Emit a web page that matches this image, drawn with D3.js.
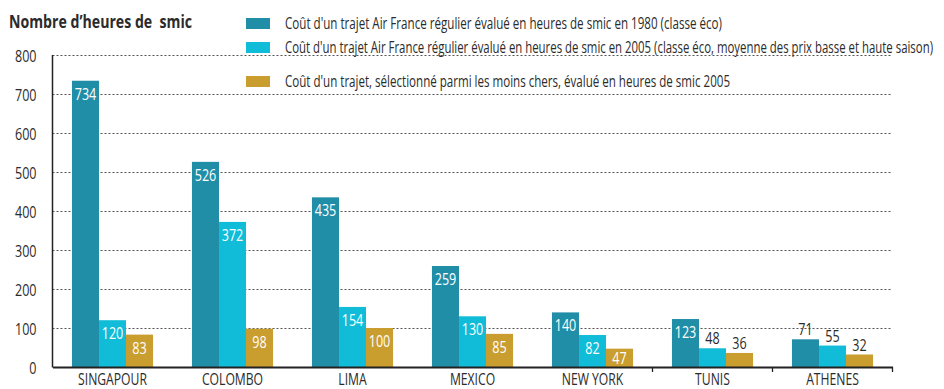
<!DOCTYPE html>
<html>
<head>
<meta charset="utf-8">
<script src="https://cdn.jsdelivr.net/npm/d3@7"></script>
<style>
  html, body { margin: 0; padding: 0; background: #fff; }
  svg { display: block; }
  text { font-family: "Open Sans", "Noto Sans", sans-serif; fill: #2b2b2b; }
</style>
</head>
<body>
<svg id="chart" width="944" height="389"></svg>
<script>
// Destinations
const categories = ["SINGAPOUR", "COLOMBO", "LIMA", "MEXICO", "NEW YORK", "TUNIS", "ATHENES"];

// Hours of minimum wage needed for one trip
const airFrance1980 = [734, 526, 435, 259, 140, 123, 71];
const airFrance2005 = [120, 372, 154, 130, 82, 48, 55];
const cheapest2005 = [83, 98, 100, 85, 47, 36, 32];

const seriesKeys = ["af1980", "af2005", "cheap"];
const seriesNames = [
  "Coût d'un trajet Air France régulier évalué en heures de smic en 1980 (classe éco)",
  "Coût d'un trajet Air France régulier évalué en heures de smic en 2005 (classe éco, moyenne des prix basse et haute saison)",
  "Coût d'un trajet, sélectionné parmi les moins chers, évalué en heures de smic 2005"
];
const seriesColors = ["#218ea8", "#10bcd8", "#ca9d2f"];

const yTicks = [0, 100, 200, 300, 400, 500, 600, 700, 800];
const yTitle = "Nombre d’heures de  smic";

// Values whose label sits above the bar instead of inside it
const labelsAbove = ["TUNIS/af2005", "TUNIS/cheap", "ATHENES/af1980", "ATHENES/af2005", "ATHENES/cheap"];
// Group boundaries that carry a small tick under the baseline
const tickedGroups = ["NEW YORK", "TUNIS", "ATHENES"];

const seriesValues = { af1980: airFrance1980, af2005: airFrance2005, cheap: cheapest2005 };
const rows = categories.map((c, i) => ({
  cat: c,
  bars: seriesKeys.map(k => ({ cat: c, key: k, value: seriesValues[k][i] }))
}));

const svg = d3.select("#chart");
const plotLeft = 52.5, plotRight = 892.5, plotTop = 55, plotBottom = 367;
const narrow = 0.74;   // horizontal squeeze for a condensed look
const isAbove = d => labelsAbove.includes(d.cat + "/" + d.key);

const x = d3.scaleBand().domain(categories).range([plotLeft, plotRight]).padding(0);
const xInner = d3.scaleBand().domain(seriesKeys).range([0, x.bandwidth()])
  .paddingInner(0).paddingOuter(0.72).align(0.5);
const y = d3.scaleLinear().domain([0, 800]).range([plotBottom, plotTop]);
const color = d3.scaleOrdinal().domain(seriesKeys).range(seriesColors);

// Dotted gridlines
const grid = svg.append("g")
  .attr("transform", `translate(${plotLeft},0)`)
  .call(d3.axisLeft(y).tickValues(yTicks.filter(v => v > 0)).tickSize(-(plotRight - plotLeft)).tickFormat(""));
grid.select(".domain").remove();
grid.selectAll(".tick line")
  .attr("stroke", "#555").attr("stroke-width", 1.1).attr("stroke-dasharray", "2,2");

// Y tick labels
const yAxis = svg.append("g")
  .attr("transform", `translate(${plotLeft},0)`)
  .call(d3.axisLeft(y).tickValues(yTicks).tickSize(0));
yAxis.select(".domain").remove();
yAxis.selectAll("text")
  .attr("font-size", 17).attr("fill", "#2b2b2b")
  .attr("font-family", "Open Sans, Noto Sans, sans-serif")
  .attr("x", 0).attr("dy", "0.36em")
  .attr("transform", `translate(-16,0) scale(${narrow},1)`);

// Bars
const groups = svg.append("g").selectAll("g").data(rows).join("g")
  .attr("transform", d => `translate(${x(d.cat)},0)`);

groups.selectAll("rect").data(d => d.bars).join("rect")
  .attr("x", d => xInner(d.key))
  .attr("width", xInner.bandwidth())
  .attr("y", d => y(d.value))
  .attr("height", d => y(0) - y(d.value))
  .attr("fill", d => color(d.key));

// Value labels: inside the top of the bar, or just above it
groups.selectAll("text.val").data(d => d.bars).join("text")
  .attr("class", "val")
  .attr("text-anchor", "middle")
  .attr("font-size", 17)
  .attr("transform", d => {
    const tx = xInner(d.key) + xInner.bandwidth() / 2;
    const ty = isAbove(d) ? y(d.value) - 4 : Math.min(y(d.value) + 19, plotBottom - 3);
    return `translate(${tx},${ty}) scale(${narrow},1)`;
  })
  .style("fill", d => isAbove(d) ? "#2b2b2b" : "#ffffff")
  .text(d => d.value);

// Axis lines
svg.append("line").attr("x1", plotLeft).attr("x2", plotLeft).attr("y1", plotTop).attr("y2", plotBottom + 0.5)
  .attr("stroke", "#222").attr("stroke-width", 1.5);

const xAxis = svg.append("g")
  .attr("transform", `translate(0,${plotBottom})`)
  .call(d3.axisBottom(x).tickSize(0).tickSizeOuter(0));
xAxis.select(".domain").attr("stroke", "#222").attr("stroke-width", 1.8);
xAxis.selectAll("text")
  .attr("font-size", 16).attr("fill", "#2b2b2b")
  .attr("font-family", "Open Sans, Noto Sans, sans-serif")
  .attr("y", 0).attr("dy", 0)
  .attr("transform", `translate(0,17.5) scale(${narrow + 0.02},1)`);

svg.append("g").selectAll("line").data(tickedGroups).join("line")
  .attr("x1", d => x(d) + x.bandwidth()).attr("x2", d => x(d) + x.bandwidth())
  .attr("y1", plotBottom).attr("y2", plotBottom + 5)
  .attr("stroke", "#222").attr("stroke-width", 1.3);

// Y axis title
svg.append("text")
  .attr("x", 9).attr("y", 28)
  .attr("font-size", 18.5).attr("font-weight", "bold")
  .style("white-space", "pre")
  .attr("textLength", 183).attr("lengthAdjust", "spacingAndGlyphs")
  .text(yTitle);

// Legend
const legendY = [18, 42, 76];
const legendWidths = [437, 648, 445];
const legend = svg.append("g").selectAll("g").data(seriesKeys).join("g")
  .attr("transform", (d, i) => `translate(246,${legendY[i]})`);
legend.append("rect").attr("width", 24).attr("height", 11).attr("fill", d => color(d));
legend.append("text")
  .attr("x", 39).attr("y", 11)
  .attr("font-size", 16.5)
  .attr("textLength", (d, i) => legendWidths[i]).attr("lengthAdjust", "spacingAndGlyphs")
  .text((d, i) => seriesNames[i]);
</script>
</body>
</html>
